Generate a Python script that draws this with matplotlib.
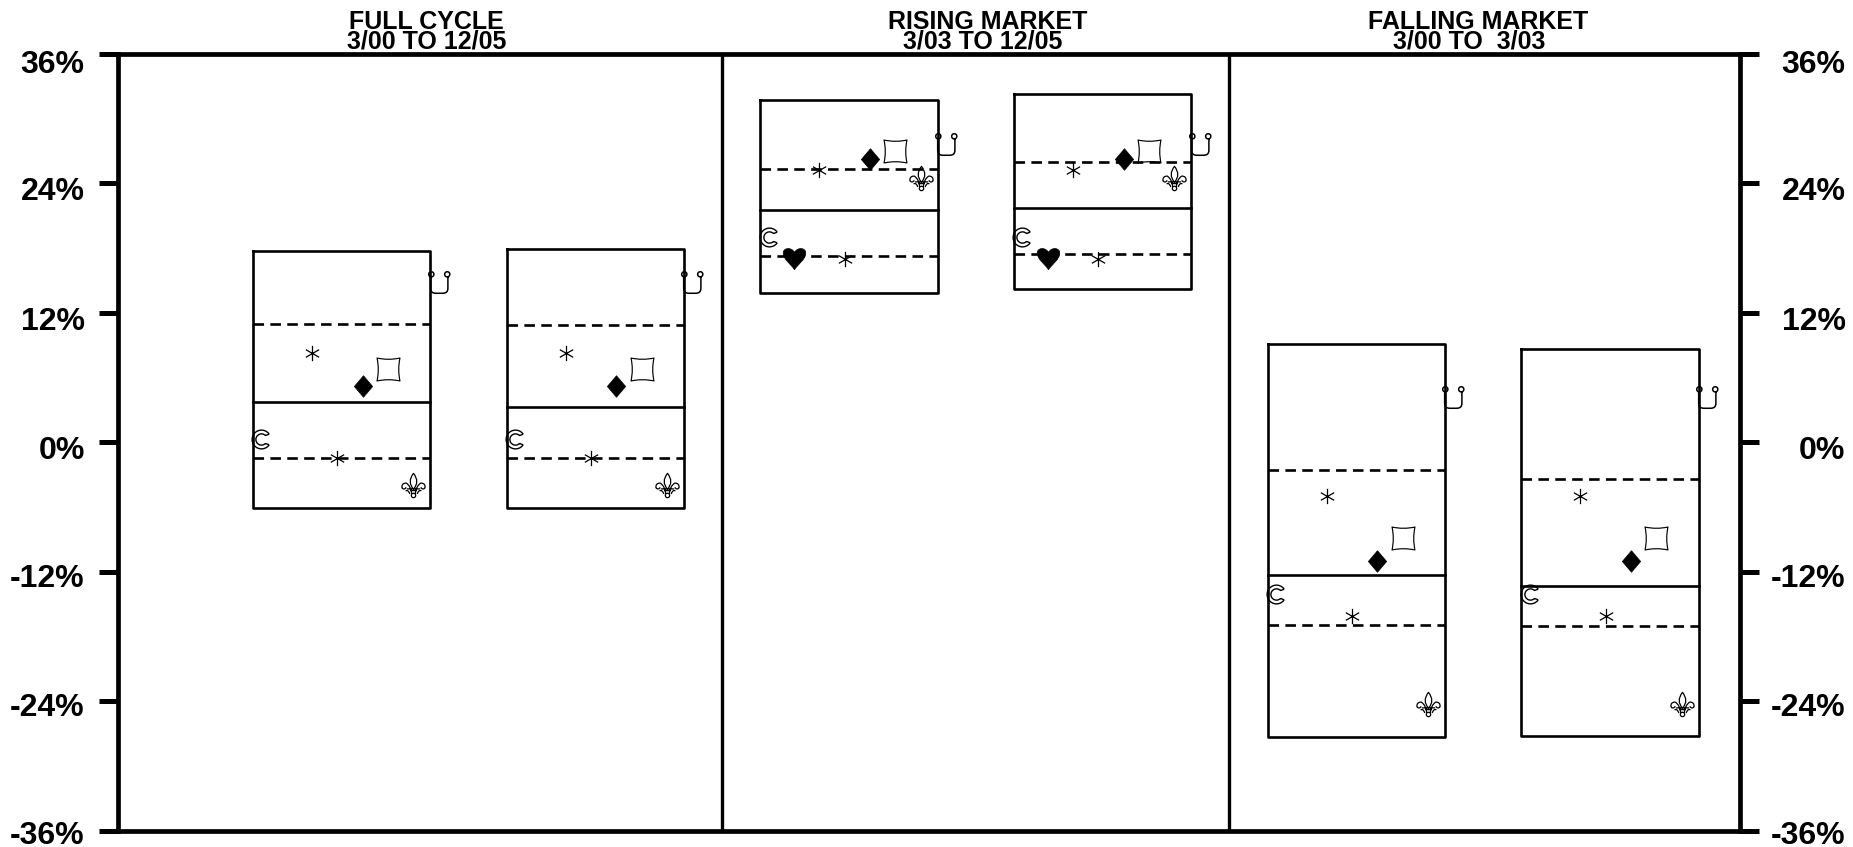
import numpy as np
import matplotlib
matplotlib.use("Agg")
import matplotlib.pyplot as plt
from matplotlib.path import Path
from matplotlib.transforms import ScaledTranslation, Affine2D

plt.rcParams['font.family'] = ['Liberation Sans', 'DejaVu Sans']

# percentile bands, one entry per box
box_top = [17.75, 17.9, 31.7, 32.3, 9.1, 8.65]
upper_dash = [10.95, 10.85, 25.3, 26.0, -2.6, -3.4]
median = [3.7, 3.3, 21.5, 21.7, -12.3, -13.3]
lower_dash = [-1.5, -1.5, 17.3, 17.5, -16.9, -17.0]
box_bottom = [-6.1, -6.1, 13.8, 14.25, -27.3, -27.2]

# one list per plotted symbol, in slot order inside a box
crescent_vals = [0.3, 0.3, 19.0, 19.0, -14.1, -14.1]
heart_vals = [np.nan, np.nan, 17.1, 17.1, np.nan, np.nan]
star_a_vals = [8.3, 8.3, 25.2, 25.2, -5.0, -5.0]
star_b_vals = [-1.5, -1.5, 17.0, 17.0, -16.1, -16.1]
diamond_vals = [5.25, 5.25, 26.3, 26.3, -11.0, -11.0]
square_vals = [6.8, 6.8, 27.05, 27.05, -8.9, -8.9]
fleur_vals = [-3.95, -3.95, 24.5, 24.5, -24.3, -24.3]
hook_vals = [14.9, 14.9, 27.7, 27.7, 4.2, 4.2]

period_names = ["FULL CYCLE", "RISING MARKET", "FALLING MARKET"]
period_dates = ["3/00 TO 12/05", "3/03 TO 12/05", "3/00 TO  3/03"]
y_ticks = [-36, -24, -12, 0, 12, 24, 36]
label_drop = [1.2, 2.4, 2.4, 4, 4, 4, 5.5]


def arc(r, a0, a1, cx=0, cy=0):
    p = Path.arc(a0, a1)
    return p.transformed(Affine2D().scale(r).translate(cx, cy))


def curve(*pts):
    codes = [Path.MOVETO] + [Path.CURVE3] * (len(pts) - 1)
    return Path(pts, codes)


def line(*pts):
    return Path(pts, [Path.MOVETO] + [Path.LINETO] * (len(pts) - 1))


star = Path.make_compound_path(line((0, -1), (0, 1)),
                               line((-0.87, -0.5), (0.87, 0.5)),
                               line((-0.87, 0.5), (0.87, -0.5)))
diamond = Path([(0, 1), (0.85, 0), (0, -1), (-0.85, 0), (0, 1)], closed=True)
heart = Path([(0, -1), (-0.3, -0.5), (-1, -0.1), (-1, 0.5), (-1, 0.95), (-0.3, 1.05), (0, 0.55),
              (0.3, 1.05), (1, 0.95), (1, 0.5), (1, -0.1), (0.3, -0.5), (0, -1), (0, -1)],
             [Path.MOVETO] + [Path.CURVE4] * 12 + [Path.CLOSEPOLY])
square = Path([(-1, 1), (0, 0.78), (1, 1), (0.78, 0), (1, -1), (0, -0.78), (-1, -1),
               (-0.78, 0), (-1, 1), (-1, 1)],
              [Path.MOVETO] + [Path.CURVE3] * 8 + [Path.CLOSEPOLY])
crescent = Path.make_compound_path(arc(1, 35, 325), arc(0.6, 45, 315),
                                   line((0.82, 0.57), (0.42, 0.42)),
                                   line((0.82, -0.57), (0.42, -0.42)))
hook = Path.make_compound_path(
    arc(0.24, 0, 360, -0.76, 0.76),
    arc(0.24, 0, 360, 0.72, 0.76),
    line((-0.82, 0.52), (-0.82, -0.55)),
    curve((-0.82, -0.55), (-0.82, -1), (-0.35, -1)),
    line((-0.35, -1), (0.3, -1)),
    curve((0.3, -1), (0.78, -1), (0.78, -0.55)),
    line((0.78, -0.55), (0.78, 0.52)))
fleur = Path.make_compound_path(
    Path([(0, 1), (-0.55, 0.3), (0, -0.3), (0.55, 0.3), (0, 1), (0, 1)],
         [Path.MOVETO, Path.CURVE3, Path.CURVE3, Path.CURVE3, Path.CURVE3, Path.CLOSEPOLY]),
    curve((-0.15, -0.7), (-0.2, -0.05), (-0.6, 0.2), (-1, 0.2), (-0.95, -0.2)),
    curve((-0.95, -0.2), (-0.75, -0.4), (-0.6, -0.15)),
    curve((-0.3, -0.7), (-0.45, -0.3), (-0.65, -0.45)),
    curve((0.15, -0.7), (0.2, -0.05), (0.6, 0.2), (1, 0.2), (0.95, -0.2)),
    curve((0.95, -0.2), (0.75, -0.4), (0.6, -0.15)),
    curve((0.3, -0.7), (0.45, -0.3), (0.65, -0.45)),
    line((-0.55, -0.28), (0.55, -0.28)),
    line((-0.25, -0.42), (0.25, -0.42)),
    arc(0.18, 0, 360, 0, -0.82))

# (values, marker, size, filled, edge width)
symbols = [
    (crescent_vals, crescent, 13.5, False, 1.0),
    (heart_vals, heart, 17, True, 0.5),
    (star_a_vals, star, 11, False, 0.9),
    (star_b_vals, star, 11, False, 0.9),
    (diamond_vals, diamond, 15.5, True, 0.5),
    (square_vals, square, 16.5, False, 0.85),
    (fleur_vals, fleur, 17.5, False, 0.9),
    (hook_vals, hook, 15.5, False, 1.1),
]

fig = plt.figure(figsize=(18.53, 8.47), dpi=100)
ax = fig.add_axes([118 / 1853, 1 - 830.5 / 847, (1740 - 118) / 1853, (830.5 - 54) / 847])
ax.set_xlim(0, 64)
ax.set_ylim(-36, 36)

first_slot = 5.65
box_gap = 10.01
for i in range(len(box_top)):
    x0 = first_slot + i * box_gap - 0.33
    x1 = x0 + 7.0
    ax.plot([x0, x1, x1, x0, x0], [box_top[i], box_top[i], box_bottom[i], box_bottom[i], box_top[i]],
            color='black', lw=1.9, solid_joinstyle='round')
    ax.plot([x0, x1], [median[i], median[i]], color='black', lw=1.9)
    ax.plot([x0, x1], [upper_dash[i], upper_dash[i]], color='black', lw=1.9, ls=(0, (4.0, 2.4)))
    ax.plot([x0, x1], [lower_dash[i], lower_dash[i]], color='black', lw=1.9, ls=(0, (4.0, 2.4)))

    for slot, (vals, mark, size, filled, mew) in enumerate(symbols):
        ax.plot(first_slot + i * box_gap + slot, vals[i], marker=mark, ms=size,
                mfc='black' if filled else 'none', mec='black', mew=mew, ls='none', zorder=4)

# period dividers
for x in [23.85, 43.85]:
    ax.plot([x, x], [-36, 36], color='black', lw=2.4)

for spine in ax.spines.values():
    spine.set_linewidth(3.4)

ax.set_xticks([])
ax.set_yticks(y_ticks)
ax.set_yticklabels([f"{v}%" for v in y_ticks], fontsize=23, fontweight='bold')
ax.tick_params(axis='y', direction='out', length=14, width=3.6, left=True, right=True,
               labelleft=True, labelright=True, pad=10)
for tick, drop in zip(ax.yaxis.get_major_ticks(), label_drop):
    down = ScaledTranslation(0, -drop / 72, fig.dpi_scale_trans)
    right = ScaledTranslation(52 / 72, -drop / 72, fig.dpi_scale_trans)
    tick.label1.set_transform(tick.label1.get_transform() + down)
    tick.label2.set_transform(tick.label2.get_transform() + right)
    tick.label2.set_ha('right')

name_x = [12.18, 34.3, 53.66]
date_x = [12.18, 34.1, 53.3]
for i in range(3):
    ax.annotate(period_names[i], (name_x[i], 36), xytext=(0, 14.5), textcoords='offset points',
                ha='center', va='bottom', fontsize=18, fontweight='bold')
    ax.annotate(period_dates[i], (date_x[i], 36), xytext=(0, 0.5), textcoords='offset points',
                ha='center', va='bottom', fontsize=18, fontweight='bold')

fig.savefig('out.png', dpi=100)
